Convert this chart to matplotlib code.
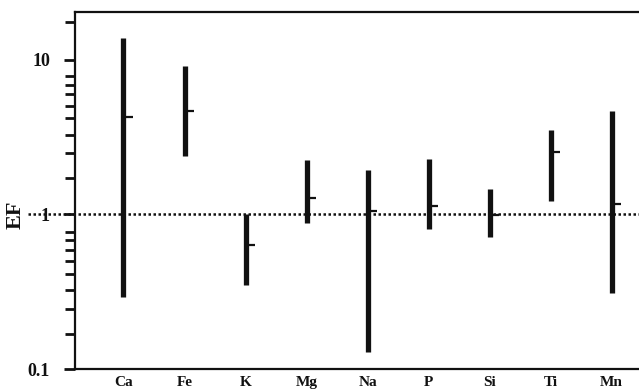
import numpy as np
import matplotlib.pyplot as plt
from matplotlib.ticker import FixedLocator, NullFormatter

plt.rcParams['font.family'] = ['Liberation Serif', 'DejaVu Serif']
plt.rcParams['font.weight'] = 'bold'

# --- data ---
elements = ["Ca", "Fe", "K", "Mg", "Na", "P", "Si", "Ti", "Mn"]
ef_max = [13.9, 9.15, 1.0, 2.24, 1.93, 2.30, 1.45, 3.50, 4.69]
ef_min = [0.294, 2.38, 0.348, 0.884, 0.129, 0.80, 0.714, 1.22, 0.309]
ef_mid = [4.24, 4.69, 0.634, 1.28, 1.05, 1.14, 0.985, 2.54, 1.17]
major_ticks = [0.1, 1, 10]
major_labels = ["0.1", "1", "10"]
minor_ticks = [0.168, 0.246, 0.323, 0.41, 0.50, 0.586, 0.683, 0.773,
               1.71, 2.49, 3.28, 4.21, 5.05, 6.01, 6.90, 7.88, 17.6]

x = np.arange(1, len(elements) + 1)

fig = plt.figure(figsize=(6.39, 3.89), dpi=100)
ax = fig.add_axes([75/639, 1 - 369/389, 1 - 75/639, (369 - 12)/389])

ink = "#111111"
ax.vlines(x, ef_min, ef_max, colors=ink, lw=3.8, capstyle="butt")
ax.hlines(ef_mid, x, x + 0.15, colors=ink, lw=1.6)
ax.axhline(1, xmin=-0.083, xmax=1, color=ink, lw=1.8, ls=(0, (1, 1)), clip_on=False)

ax.set_yscale("log")
ax.set_ylim(0.1, 20.4)
ax.set_xlim(0.205, 9.45)

ax.yaxis.set_major_locator(FixedLocator(major_ticks))
ax.set_yticklabels(major_labels)
ax.yaxis.set_minor_locator(FixedLocator(minor_ticks))
ax.yaxis.set_minor_formatter(NullFormatter())
ax.tick_params(axis="y", which="major", length=8, width=2, pad=10, labelsize=13, colors=ink)
ax.tick_params(axis="y", which="minor", length=7, width=2, colors=ink)

ax.set_xticks(x)
ax.set_xticklabels(elements)
ax.tick_params(axis="x", length=0, pad=5, labelsize=11, colors=ink)

for lbl in ax.get_xticklabels() + ax.get_yticklabels():
    lbl.set_fontweight("bold")

ax.set_ylabel("EF", fontsize=16, fontweight="bold", color=ink)
ax.yaxis.set_label_coords(-0.088, 0.431)

for s in ["left", "bottom", "top"]:
    ax.spines[s].set_linewidth(1.6)
    ax.spines[s].set_color(ink)
ax.spines["right"].set_visible(False)

fig.savefig("out.png", dpi=100)
